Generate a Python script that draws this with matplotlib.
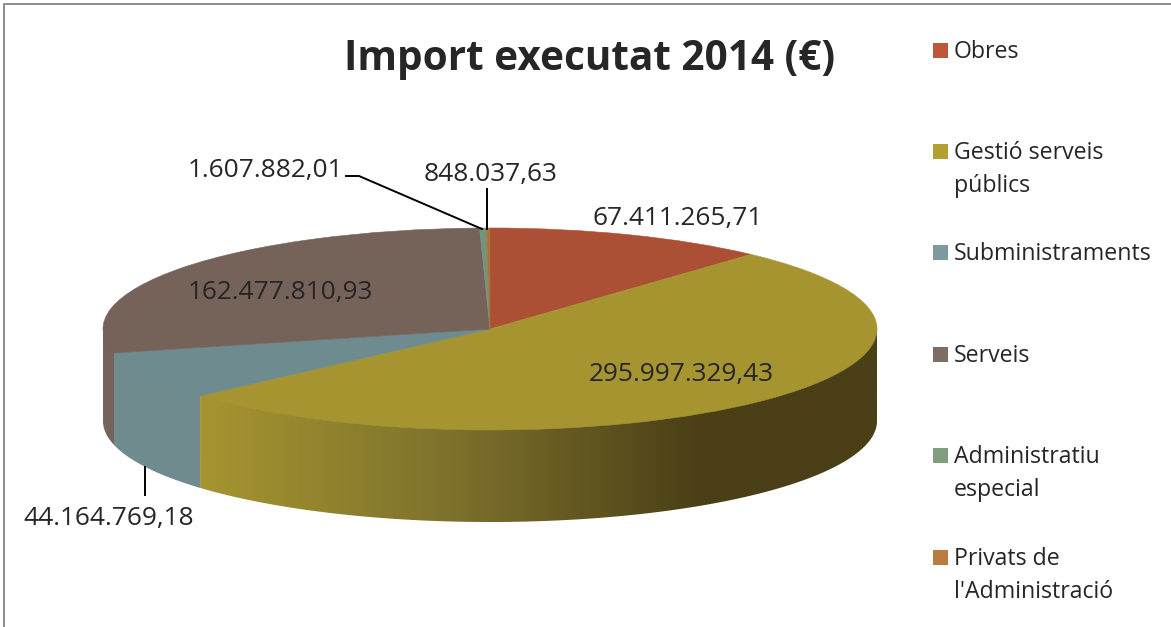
import numpy as np
import matplotlib
matplotlib.use('Agg')
import matplotlib.pyplot as plt
from matplotlib.colors import LinearSegmentedColormap
from matplotlib.patches import Polygon, Rectangle

categories = ['Obres', 'Gestió serveis\npúblics', 'Subministraments', 'Serveis',
              'Administratiu\nespecial', "Privats de\nl'Administració"]
values = [67411265.71, 295997329.43, 44164769.18, 162477810.93, 1607882.01, 848037.63]
value_labels = ['67.411.265,71', '295.997.329,43', '44.164.769,18', '162.477.810,93',
                '1.607.882,01', '848.037,63']
title = 'Import executat 2014 (€)'

top_colors = ['#ab5034', '#a59430', '#6e8b90', '#75635a', '#74937a', '#ad7238']
wall_colors = ['#8a4029', None, '#6f8b8d', '#75645a', '#74937a', '#ad7238']
legend_colors = ['#be5639', '#b2a030', '#7d9a9f', '#7e6d63', '#7f9e7e', '#b97c3e']

plt.rcParams['font.family'] = ['Open Sans', 'DejaVu Sans']
W, H = 1171, 627
fig = plt.figure(figsize=(W / 100, H / 100), dpi=100)

# pie top is a stretched unit circle, box in pixels
left, right, top, bottom = 103, 877, 228, 430
ax = fig.add_axes([left / W, 1 - bottom / H, (right - left) / W, (bottom - top) / H])
depth = 92 / ((bottom - top) / 2)

wedges, _ = ax.pie(values, startangle=90, counterclock=False, colors=top_colors, radius=1,
                   wedgeprops={'linewidth': 0, 'zorder': 5})
for w, c in zip(wedges, top_colors):
    w.set_clip_on(False)
    w.set_edgecolor(c)
    w.set_linewidth(0.4)

# side wall, only the front half of the circle shows
cmap = LinearSegmentedColormap.from_list('wall', [(0, '#a59530'), (0.38, '#7d702c'), (0.74, '#4a3f16'), (1, '#4a3f16')])
ends = np.cumsum(values) / np.sum(values) * 360
starts = np.concatenate(([0], ends[:-1]))
for i in range(len(values)):
    a = max(starts[i], 90)
    b = min(ends[i], 270)
    if b <= a:
        continue
    t = np.radians(np.linspace(a, b, 200))
    x, y = np.sin(t), np.cos(t)
    # top edge goes a little under the wedge so no white seam is left
    pts = np.column_stack((np.r_[x, x[::-1]], np.r_[y + 0.03, y[::-1] - depth]))
    if wall_colors[i] is None:
        grad = np.linspace(0, 1, 400).reshape(1, -1)
        im = ax.imshow(grad, cmap=cmap, vmin=0, vmax=1, aspect='auto',
                       extent=(x.min(), x.max(), -1 - depth - 0.1, 1), zorder=2)
        clip = Polygon(pts, closed=True, facecolor='none', edgecolor='none', clip_on=False)
        ax.add_patch(clip)
        im.set_clip_box(fig.bbox)
        im.set_clip_path(clip)
    else:
        ax.add_patch(Polygon(pts, closed=True, facecolor=wall_colors[i], edgecolor='none', zorder=2, clip_on=False))
ax.set_xlim(-1, 1)
ax.set_ylim(-1, 1)
ax.set_aspect('auto')
ax.axis('off')

# overlay in pixel coordinates for texts and frame
ov = fig.add_axes([0, 0, 1, 1], zorder=10)
ov.set_xlim(0, W)
ov.set_ylim(H, 0)
ov.axis('off')
ov.patch.set_alpha(0)

ov.plot([3.5, 3.5, W], [H, 3.5, 3.5], color='#8c8c8c', lw=1.4)
ov.text(590, 60, title, fontsize=29.2, fontweight='bold', color='#262626', ha='center', va='center')

label_pos = [(678, 218), (681, 374), (109, 518), (280, 292), (265, 170), (491, 174)]
for lab, (px, py) in zip(value_labels, label_pos):
    ov.text(px, py, lab, fontsize=18.9, color='#262626', ha='center', va='center')

ov.plot([346, 359, 482], [176, 176, 229], color='black', lw=1.4)
ov.plot([487, 487], [189, 229], color='black', lw=1.4)
ov.plot([145, 145], [467, 495], color='black', lw=1.4)

legend_y = [50, 151, 252, 354, 455, 557]
for name, col, ly in zip(categories, legend_colors, legend_y):
    ov.add_patch(Rectangle((933, ly - 7.5), 15, 15, facecolor=col, edgecolor='none'))
    ov.text(954, ly - 10, name, fontsize=16.7, color='#262626', ha='left', va='top', linespacing=1.5)

fig.savefig('out.png', dpi=100)
plt.close()
